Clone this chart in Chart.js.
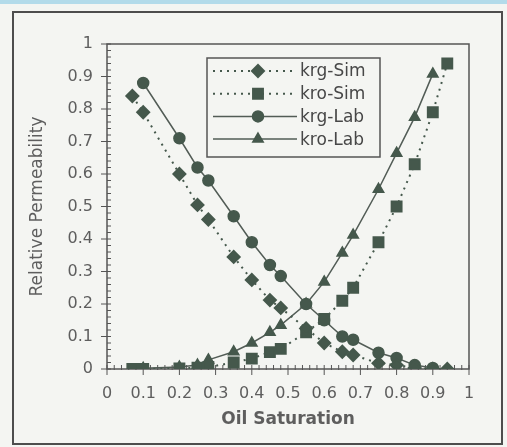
<!DOCTYPE html>
<html lang="en">
<head>
    <meta charset="UTF-8">
    <title>Relative Permeability vs Oil Saturation</title>
    <style>
        body {
            margin: 0;
            background-color: #f4f5f2;
        }

        .strip {
            position: absolute;
            top: 0;
            left: 0;
            width: 507px;
            height: 4px;
            background-color: #b3dbea;
        }

        canvas {
            display: block;
        }
    </style>
    <script src="https://cdn.jsdelivr.net/npm/chart.js"></script>
</head>
<body>
    <div class="strip"></div>
    <canvas id="permChart" width="507" height="447"></canvas>

    <script>
        // saturation points (simulation and lab)
        const simSat = [0.07, 0.1, 0.2, 0.25, 0.28, 0.35, 0.4, 0.45, 0.48, 0.55, 0.6, 0.65, 0.68, 0.75, 0.8, 0.85, 0.9, 0.94];
        const labSat = [0.1, 0.2, 0.25, 0.28, 0.35, 0.4, 0.45, 0.48, 0.55, 0.6, 0.65, 0.68, 0.75, 0.8, 0.85, 0.9];

        const krgSim = [0.84, 0.79, 0.6, 0.505, 0.46, 0.345, 0.274, 0.212, 0.188, 0.125, 0.08, 0.053, 0.043, 0.018, 0.012, 0.003, 0, 0];
        const kroSim = [0, 0, 0.002, 0.004, 0.006, 0.02, 0.032, 0.052, 0.062, 0.113, 0.154, 0.21, 0.25, 0.39, 0.5, 0.63, 0.79, 0.94];
        const krgLab = [0.88, 0.71, 0.62, 0.58, 0.47, 0.39, 0.32, 0.286, 0.2, 0.15, 0.1, 0.09, 0.05, 0.034, 0.012, 0.003];
        const kroLab = [0.002, 0.006, 0.012, 0.028, 0.053, 0.08, 0.113, 0.135, 0.2, 0.268, 0.357, 0.412, 0.553, 0.664, 0.775, 0.908];

        const xTickLabels = ['0', '0.1', '0.2', '0.3', '0.4', '0.5', '0.6', '0.7', '0.8', '0.9', '1'];
        const yTickLabels = ['0', '0.1', '0.2', '0.3', '0.4', '0.5', '0.6', '0.7', '0.8', '0.9', '1'];

        const fontFamily = "'DejaVu Sans', sans-serif";
        const markColor = '#45584c';
        const lineColor = '#525c56';
        const textColor = '#5e5e5e';
        const frameColor = '#555';
        const bgColor = '#f4f5f2';

        const toPoints = (xs, ys) => xs.map((x, i) => ({ x: x, y: ys[i] }));

        // outer frame, plot frame, the minor / major tick marks and the legend box
        const framePlugin = {
            id: 'frameAndTicks',
            beforeDraw(chart) {
                const ctx = chart.ctx;
                ctx.save();
                ctx.strokeStyle = '#4d4d4d';
                ctx.lineWidth = 2;
                ctx.strokeRect(13, 12, 489, 432);
                ctx.restore();
            },
            beforeDatasetsDraw(chart) {
                const ctx = chart.ctx;
                const area = chart.chartArea;
                const xs = chart.scales.x;
                const ys = chart.scales.y;
                ctx.save();
                ctx.strokeStyle = frameColor;
                ctx.lineWidth = 1.5;
                ctx.strokeRect(area.left, area.top, area.right - area.left, area.bottom - area.top);

                ctx.lineWidth = 1;
                for (let i = 0; i <= 50; i++) {
                    const major = i % 5 === 0;
                    const v = i / 50;
                    const py = ys.getPixelForValue(v);
                    ctx.beginPath();
                    ctx.moveTo(area.left - (major ? 6 : 0), py);
                    ctx.lineTo(area.left + 4, py);
                    ctx.stroke();

                    const px = xs.getPixelForValue(v);
                    ctx.beginPath();
                    ctx.moveTo(px, area.bottom + (major ? 6 : 1));
                    ctx.lineTo(px, area.bottom - 4);
                    ctx.stroke();
                }
                ctx.restore();
            },
            afterDatasetsDraw(chart) {
                const ctx = chart.ctx;
                ctx.save();
                ctx.fillStyle = bgColor;
                ctx.fillRect(207, 58, 173, 99);
                ctx.strokeStyle = frameColor;
                ctx.lineWidth = 1.5;
                ctx.strokeRect(207, 58, 173, 99);

                chart.data.datasets.forEach((ds, i) => {
                    const y = 71 + i * 22.7;
                    ctx.strokeStyle = ds.borderColor;
                    ctx.lineWidth = ds.borderWidth;
                    ctx.setLineDash(ds.borderDash || []);
                    ctx.beginPath();
                    ctx.moveTo(213, y);
                    ctx.lineTo(297, y);
                    ctx.stroke();
                    ctx.setLineDash([]);

                    ctx.fillStyle = markColor;
                    ctx.strokeStyle = markColor;
                    Chart.helpers.drawPoint(ctx, {
                        pointStyle: ds.pointStyle,
                        radius: ds.pointRadius,
                        rotation: 0,
                        borderWidth: 1
                    }, 258, y);

                    ctx.fillStyle = '#474747';
                    ctx.font = '17px ' + fontFamily;
                    ctx.textBaseline = 'middle';
                    ctx.textAlign = 'left';
                    ctx.fillText(ds.label, 300, y + 1);
                });
                ctx.restore();
            }
        };

        const ctx = document.getElementById('permChart').getContext('2d');
        new Chart(ctx, {
            type: 'scatter',
            data: {
                datasets: [
                    {
                        label: 'krg-Sim',
                        data: toPoints(simSat, krgSim),
                        showLine: true,
                        borderColor: markColor,
                        borderWidth: 2,
                        borderDash: [2, 5],
                        pointStyle: 'rectRot',
                        pointRadius: 6,
                        pointBackgroundColor: markColor,
                        pointBorderColor: markColor
                    },
                    {
                        label: 'kro-Sim',
                        data: toPoints(simSat, kroSim),
                        showLine: true,
                        borderColor: markColor,
                        borderWidth: 2,
                        borderDash: [2, 5],
                        pointStyle: 'rect',
                        pointRadius: 7,
                        pointBackgroundColor: markColor,
                        pointBorderColor: markColor
                    },
                    {
                        label: 'krg-Lab',
                        data: toPoints(labSat, krgLab),
                        showLine: true,
                        borderColor: lineColor,
                        borderWidth: 1.5,
                        pointStyle: 'circle',
                        pointRadius: 5.5,
                        pointBackgroundColor: markColor,
                        pointBorderColor: markColor
                    },
                    {
                        label: 'kro-Lab',
                        data: toPoints(labSat, kroLab),
                        showLine: true,
                        borderColor: lineColor,
                        borderWidth: 1.5,
                        pointStyle: 'triangle',
                        pointRadius: 6,
                        pointBackgroundColor: markColor,
                        pointBorderColor: markColor
                    }
                ]
            },
            options: {
                responsive: false,
                animation: false,
                layout: {
                    padding: { left: 20, right: 38, top: 44, bottom: 10 }
                },
                plugins: {
                    legend: { display: false },
                    tooltip: { enabled: false }
                },
                scales: {
                    x: {
                        type: 'linear',
                        min: 0,
                        max: 1,
                        grid: { display: false, drawTicks: false },
                        border: { display: false },
                        ticks: {
                            stepSize: 0.1,
                            padding: 15,
                            autoSkip: false,
                            maxRotation: 0,
                            color: textColor,
                            font: { family: fontFamily, size: 16 },
                            callback: (value, index) => xTickLabels[index]
                        },
                        title: {
                            display: true,
                            text: 'Oil Saturation',
                            color: textColor,
                            font: { family: fontFamily, size: 17, weight: 'bold' },
                            padding: { top: 0, bottom: 7 }
                        },
                        afterFit: scale => { scale.height = 68; }
                    },
                    y: {
                        type: 'linear',
                        min: 0,
                        max: 1,
                        grid: { display: false, drawTicks: false },
                        border: { display: false },
                        ticks: {
                            stepSize: 0.1,
                            padding: 14,
                            color: textColor,
                            font: { family: fontFamily, size: 16 },
                            callback: (value, index) => yTickLabels[index]
                        },
                        title: {
                            display: true,
                            text: 'Relative Permeability',
                            color: textColor,
                            font: { family: fontFamily, size: 17 },
                            padding: { top: 7, bottom: 0 }
                        },
                        afterFit: scale => { scale.width = 87; }
                    }
                }
            },
            plugins: [framePlugin]
        });
    </script>
</body>
</html>
